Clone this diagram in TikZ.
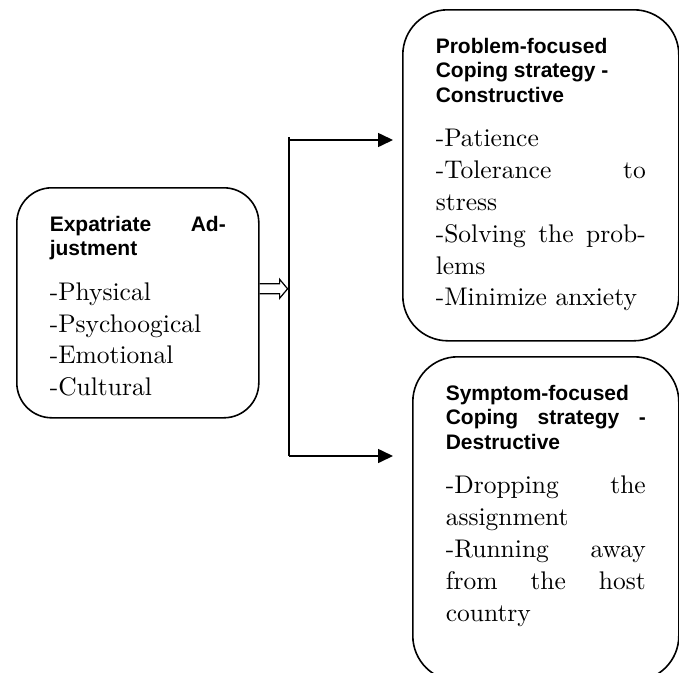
\documentclass[tikz,border=0pt]{standalone}
\usepackage{fontspec}
\newfontfamily\headfont{Liberation Sans}
\newfontfamily\listfont{lmroman10-regular}[Extension=.otf]
\usetikzlibrary{positioning,arrows.meta}

% heading in bold sans, list in serif, both set justified
\newcommand{\boxtext}[4]{\parbox[t][#2][t]{#1}{%
    \fontsize{21}{24.5}\selectfont\headfont\bfseries #3\par
    \vspace{13pt}%
    \fontsize{25.5}{31.8}\selectfont\listfont #4}}

\begin{document}
\begin{tikzpicture}[
        x=1pt, y=-1pt,
        box/.style={draw, rounded corners=#1, line width=1.6pt, anchor=north west,
            inner xsep=33pt, inner ysep=28pt},
        arr/.style={-{Triangle[length=15pt, width=14pt]}, line width=1.6pt},
        hollow/.style={line width=1.2pt, line join=miter},
    ]
        \useasboundingbox (0,0) rectangle (679,672);
        \clip (0,0) rectangle (679,672);

        % Left: adjustment
        \node[box=35pt] (adjust) at (16,187)
            {\boxtext{176pt}{174pt}{Expatriate\hfill Ad-\\justment}%
                {-Physical\\-Psychoogical\\-Emotional\\-Cultural}};

        % Right column: coping strategies
        \node[box=45pt] (problem) at (402,9)
            {\boxtext{210pt}{275pt}{Problem-focused\\Coping strategy -\\Constructive}%
                {-Patience\\-Tolerance\hfill to\\stress\\-Solving\hfill the\hfill prob-\\lems\\-Minimize anxiety}};
        \node[box=45pt] (symptom) at (412,356)
            {\boxtext{200pt}{268pt}{Symptom-focused\\Coping\hfill strategy\hfill -\\Destructive}%
                {-Dropping\hfill the\\assignment\\-Running\hfill away\\from\hfill the\hfill host\\country}};

        % Fork
        \coordinate (forktop) at (289,140);
        \coordinate (forkbot) at (289,456);
        \coordinate (outlet) at ([yshift=14pt]adjust.east);
        \draw[line width=1.6pt] ([yshift=3pt]forktop) -- (forkbot);
        \draw[arr, shorten >=9pt] (forktop) -- (forktop -| problem.west);
        \draw[arr, shorten >=19pt] (forkbot) -- (forkbot -| symptom.west);
        \draw[hollow] ([yshift=5pt]outlet) -- ++(20pt,0pt) -- ++(0pt,4.5pt) -- ++(8pt,-9.5pt)
            -- ++(-8pt,-9.5pt) -- ++(0pt,4.5pt) -- ++(-20pt,0pt);
    \end{tikzpicture}
\end{document}
